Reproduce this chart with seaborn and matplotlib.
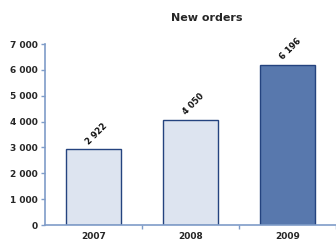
import matplotlib
matplotlib.use("Agg")
import matplotlib.pyplot as plt
import seaborn as sns
import pandas as pd

years = ["2007", "2008", "2009"]
orders = [2922, 4050, 6196]
y_ticks = [0, 1000, 2000, 3000, 4000, 5000, 6000, 7000]
bar_colors = ["#dde4f0", "#dde4f0", "#5878ad"]

df = pd.DataFrame({"year": years, "orders": orders})

sns.set_style("white")
plt.rcParams['font.family'] = ['DejaVu Sans']

fig = plt.figure(figsize=(3.36, 2.42), dpi=100)
ax = fig.add_axes([0.134, 0.07, 0.866, 0.748])

sns.barplot(data=df, x="year", y="orders", hue="year", palette=bar_colors,
            legend=False, width=0.57, edgecolor="#24437f", linewidth=1.0,
            saturation=1, ax=ax)

ax.set_ylim(0, 7000)
ax.set_xlim(-0.5, 2.5)
ax.set_yticks(y_ticks)
ax.set_yticklabels([f"{v:,}".replace(",", " ") for v in y_ticks],
                   fontsize=6.5, fontweight="bold")
ax.set_xticks([0, 1, 2])
ax.set_xticklabels(years, fontsize=6.5, fontweight="bold")
ax.tick_params(axis="x", length=0, pad=5)
ax.tick_params(axis="y", length=3, width=1, color="#7f9cc8", direction="out", pad=2, left=True)
ax.set_xticks([0.5, 1.5, 2.5], minor=True)
ax.tick_params(axis="x", which="minor", length=3, width=1, color="#7f9cc8", direction="out", bottom=True)
ax.set_xlabel("")
ax.set_ylabel("")

for side in ["top", "right"]:
    ax.spines[side].set_visible(False)
for side in ["left", "bottom"]:
    ax.spines[side].set_color("#7f9cc8")
    ax.spines[side].set_linewidth(1.2)

for i, v in enumerate(orders):
    ax.annotate(f"{v:,}".replace(",", " "), xy=(i, v), xytext=(2, 11.5),
                textcoords="offset points", rotation=45,
                ha="center", va="center", fontsize=6.0, fontweight="bold",
                rotation_mode="anchor", color="#111111")

fig.text(0.615, 0.925, "New orders", ha="center", va="center",
         fontsize=8, fontweight="bold")

fig.savefig("out.png", dpi=100)
